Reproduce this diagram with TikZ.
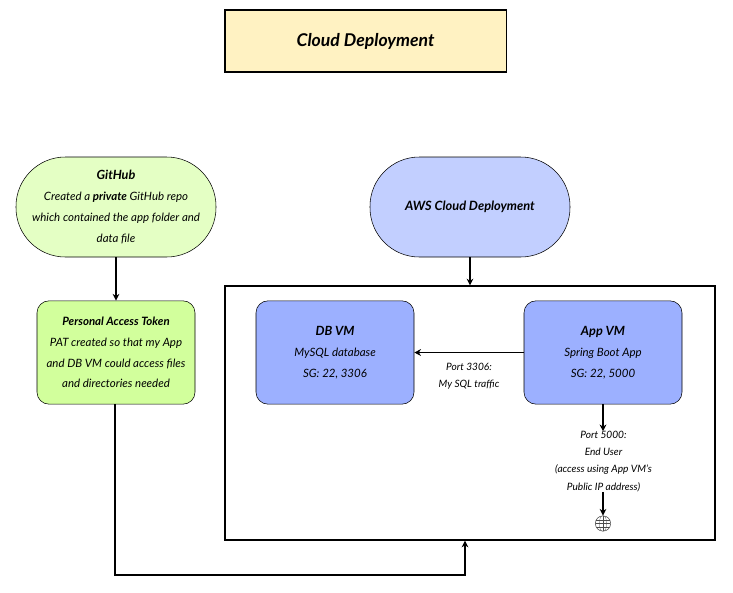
\documentclass[tikz,border=0pt]{standalone}
\usepackage{fontspec}
\setmainfont{Lato}
\usepackage{xcolor}
\usetikzlibrary{positioning,arrows.meta}
\definecolor{titlefill}{HTML}{FFF2C2}
\definecolor{gitfill}{HTML}{E4FFC4}
\definecolor{patfill}{HTML}{D2FF9C}
\definecolor{awsfill}{HTML}{C2CFFF}
\definecolor{vmfill}{HTML}{9CB0FF}
\begin{document}
\begin{tikzpicture}[
  x=0.75pt,y=-0.75pt,
  every node/.style={font=\itshape\fontsize{8.6}{15.6}\selectfont,align=center,inner sep=0pt},
  box/.style={draw,line width=0.4pt,minimum width=118.5pt,minimum height=77.5pt,rounded corners=9pt},
  pill/.style={draw,line width=0.4pt,minimum width=150pt,minimum height=75pt,rounded corners=37pt},
  link/.style={draw,line width=1pt,-{Stealth[length=5pt,width=5pt]}},
  small/.style={font=\itshape\fontsize{7.6}{12.8}\selectfont},
]
\useasboundingbox (0,0) rectangle (733,593);
\node[draw,line width=1pt,fill=titlefill,minimum width=211pt,minimum height=46.5pt,font=\bfseries\itshape\fontsize{13.2}{15}\selectfont](title) at(365.5,41){\raisebox{-1.5pt}{Cloud Deployment}};
\node[pill,fill=gitfill](github) at(116,207){{\bfseries\fontsize{9.5}{15.6}\selectfont GitHub}\\Created a \textbf{private} GitHub repo\\which contained the app folder and\\data file};
\node[pill,fill=awsfill,font=\bfseries\itshape\fontsize{9.6}{15}\selectfont](aws) at(470,207){AWS Cloud Deployment};
\node[box,fill=patfill](pat) at(116,352.5){\textbf{Personal Access Token}\\PAT created so that my App\\and DB VM could access files\\and directories needed};
\node[draw,line width=1pt,minimum width=367.5pt,minimum height=190.5pt](cloud) at(470,413){};
\node[box,fill=vmfill](db) at(335,352.5){{\bfseries\fontsize{9.5}{15.6}\selectfont DB VM}\\MySQL database\\SG: 22, 3306};
\node[box,fill=vmfill](app) at(603,352.5){{\bfseries\fontsize{9.5}{15.6}\selectfont App VM}\\Spring Boot App\\SG: 22, 5000};
\node[small](sqllabel) at(469,376){Port 3306:\\My SQL traffic};
\node[small](userlabel) at(603.5,461.5){Port 5000:\\End User\\(access using App VM's\\Public IP address)};
\node[circle,draw=black!70,line width=0.4pt,minimum size=11.5pt,
  path picture={\draw[line width=0.2pt,black!70]
    (path picture bounding box.north) -- (path picture bounding box.south)
    (path picture bounding box.west) -- (path picture bounding box.east)
    ([yshift=2.6pt]path picture bounding box.west) -- ([yshift=2.6pt]path picture bounding box.east)
    ([yshift=-2.6pt]path picture bounding box.west) -- ([yshift=-2.6pt]path picture bounding box.east);
    \draw[line width=0.2pt,black!70] (path picture bounding box.center) ellipse (2.8pt and 6pt);}](globe) at(603,523.5){};
\coordinate(patdown) at(115,575);
\coordinate(cloudin) at(465,575);
\draw[link](github.south)--(pat.north);
\draw[link](aws.south)--(cloud.north-|aws.south);
\draw[link](app.west)--(db.east);
\draw[link](app.south)--(userlabel.north-|app.south);
\draw[link](userlabel.south-|globe.north)--(globe.north);
\draw[link](pat.south-|patdown)--(patdown)--(cloudin)--(cloud.south-|cloudin);
\end{tikzpicture}
\end{document}
